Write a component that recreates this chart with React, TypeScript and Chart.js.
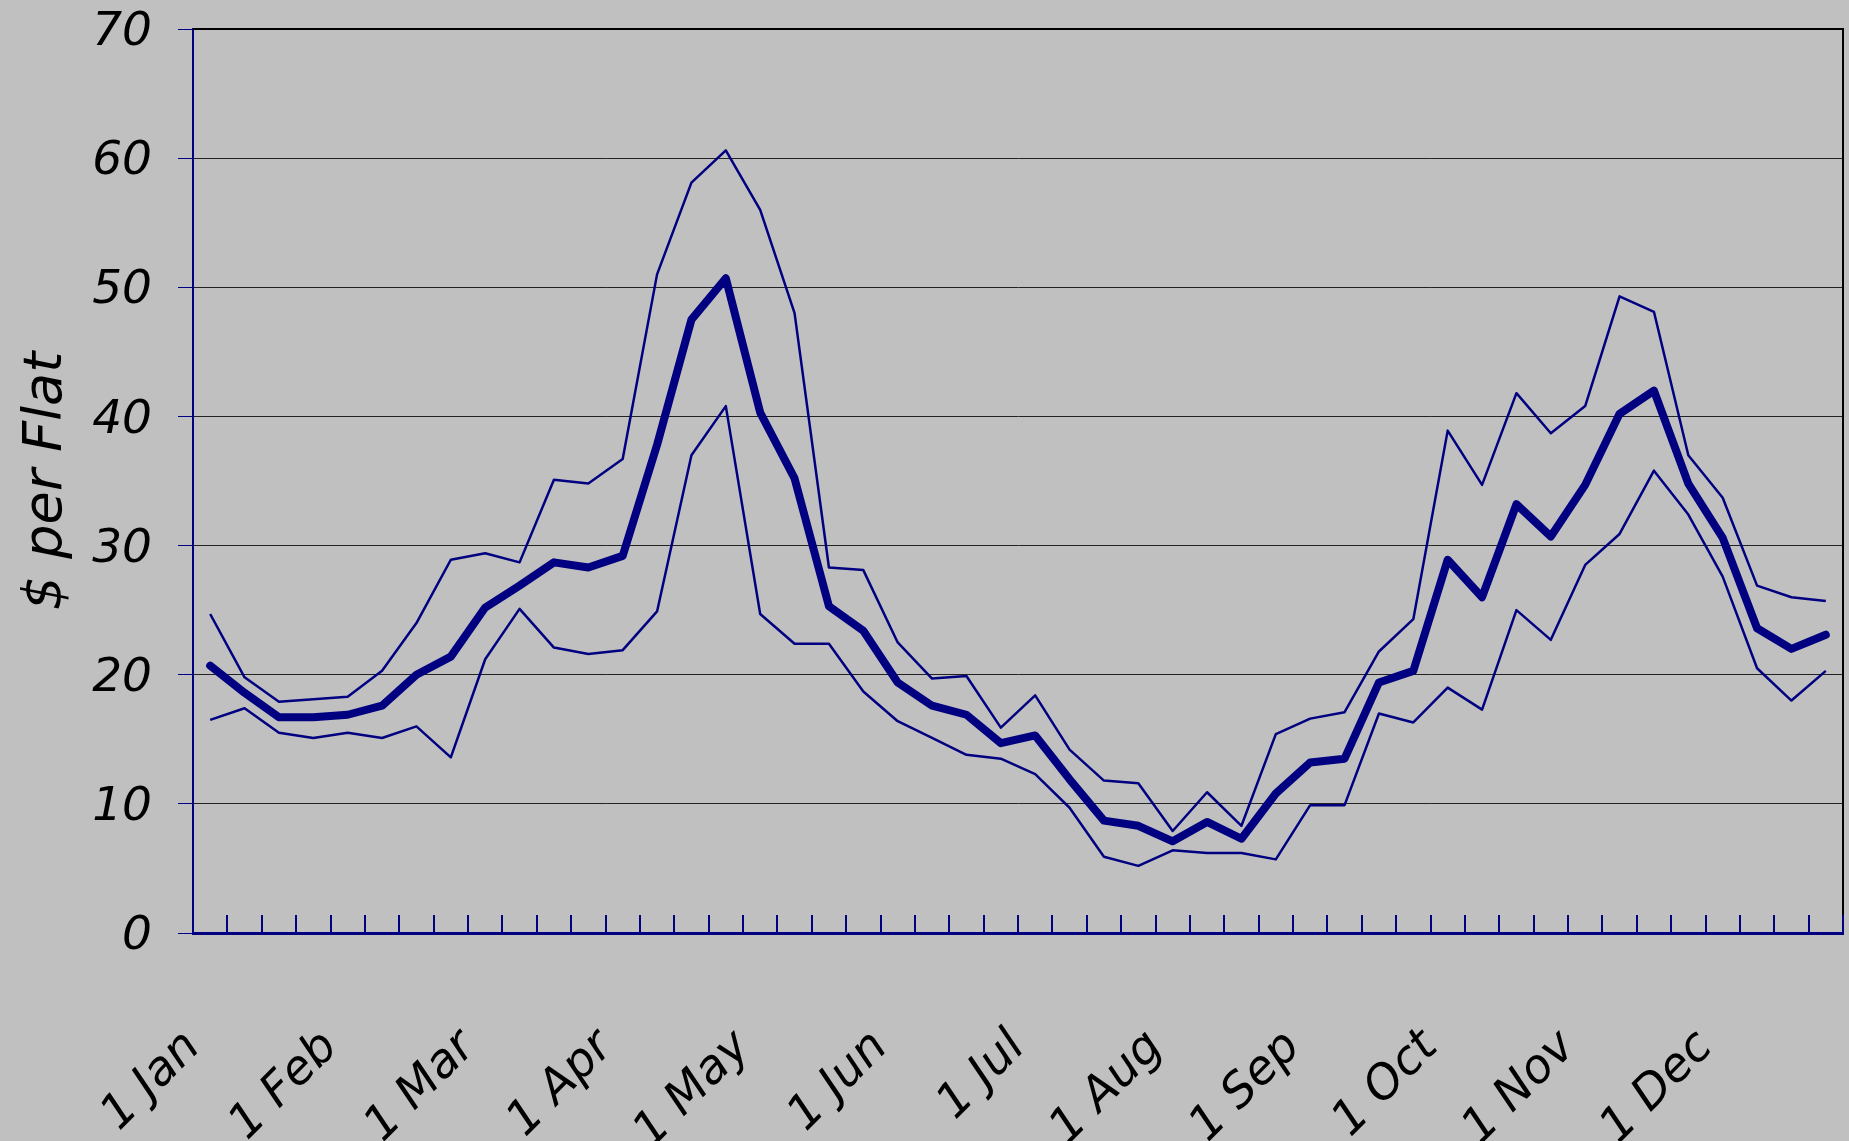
import React, { useEffect, useRef } from "react";
import { Chart, registerables } from "chart.js";

Chart.register(...registerables);

// ---- Data ----
const MONTHS = ["1 Jan", "1 Feb", "1 Mar", "1 Apr", "1 May", "1 Jun", "1 Jul", "1 Aug", "1 Sep", "1 Oct", "1 Nov", "1 Dec"];
// four weekly categories per month, the month label on the first one
const WEEK_LABELS = MONTHS.flatMap((m) => [m, "", "", ""]);

const MAX_PRICE = [
  24.7, 19.8, 17.9, 18.1, 18.3, 20.3, 24.0, 28.9, 29.4, 28.7, 35.1, 34.8,
  36.7, 51.0, 58.1, 60.6, 56.0, 48.0, 28.3, 28.1, 22.5, 19.7, 19.9, 15.9,
  18.4, 14.2, 11.8, 11.6, 7.9, 10.9, 8.3, 15.4, 16.6, 17.1, 21.8, 24.3,
  38.9, 34.7, 41.8, 38.7, 40.8, 49.3, 48.1, 37.0, 33.7, 26.9, 26.0, 25.7,
];
const AVG_PRICE = [
  20.7, 18.6, 16.7, 16.7, 16.9, 17.6, 20.0, 21.4, 25.2, 26.9, 28.7, 28.3,
  29.2, 37.8, 47.5, 50.7, 40.3, 35.2, 25.3, 23.4, 19.4, 17.6, 16.9, 14.7,
  15.3, 11.9, 8.7, 8.3, 7.1, 8.6, 7.3, 10.8, 13.2, 13.5, 19.4, 20.3,
  28.9, 26.0, 33.2, 30.7, 34.7, 40.2, 42.0, 34.8, 30.6, 23.6, 22.0, 23.1,
];
const MIN_PRICE = [
  16.5, 17.4, 15.5, 15.1, 15.5, 15.1, 16.0, 13.6, 21.2, 25.1, 22.1, 21.6,
  21.9, 24.9, 37.0, 40.8, 24.7, 22.4, 22.4, 18.7, 16.4, 15.1, 13.8, 13.5,
  12.3, 9.7, 5.9, 5.2, 6.4, 6.2, 6.2, 5.7, 9.9, 9.9, 17.0, 16.3,
  19.0, 17.3, 25.0, 22.7, 28.5, 30.9, 35.8, 32.4, 27.6, 20.5, 18.0, 20.3,
];

const Y_MIN = 0;
const Y_MAX = 70;
const Y_STEP = 10;
const Y_TITLE = "$ per Flat";

// ---- Styles ----
const W = 1849;
const H = 1141;
const NAVY = "#000080";
const BG = "#C0C0C0";
const FONT = "'DejaVu Sans', sans-serif";

const framePlugin = {
  id: "frame",
  beforeDraw(chart: any) {
    const { ctx } = chart;
    ctx.save();
    ctx.fillStyle = BG;
    ctx.fillRect(0, 0, chart.width, chart.height);
    ctx.restore();
  },
  afterDraw(chart: any) {
    const { ctx, chartArea } = chart;
    const x = chart.scales.x;
    const n = x.getLabels().length;
    const step = x.getPixelForValue(1) - x.getPixelForValue(0);
    ctx.save();
    // top and right frame
    ctx.strokeStyle = "#000000";
    ctx.lineWidth = 2;
    ctx.beginPath();
    ctx.moveTo(chartArea.left, chartArea.top);
    ctx.lineTo(chartArea.right, chartArea.top);
    ctx.lineTo(chartArea.right, chartArea.bottom);
    ctx.stroke();
    // inside tick marks at category boundaries
    ctx.strokeStyle = NAVY;
    ctx.lineWidth = 2;
    ctx.beginPath();
    for (let i = 0; i <= n; i++) {
      const px = Math.round(x.getPixelForValue(i) - step / 2);
      ctx.moveTo(px, chartArea.bottom);
      ctx.lineTo(px, chartArea.bottom - 18);
    }
    ctx.stroke();
    ctx.restore();
  },
};

export default function App() {
  const ref = useRef<HTMLCanvasElement | null>(null);

  useEffect(() => {
    document.body.style.margin = "0";
    document.body.style.background = BG;
    const canvas = ref.current;
    if (!canvas) return;
    const thin = { borderColor: NAVY, borderWidth: 2.5, pointRadius: 0, tension: 0, fill: false, borderJoinStyle: "round" as const };
    const chart = new Chart(canvas, {
      type: "line",
      data: {
        labels: WEEK_LABELS,
        datasets: [
          { label: "Max", data: MAX_PRICE, ...thin, order: 2 },
          { label: "Min", data: MIN_PRICE, ...thin, order: 3 },
          {
            label: "Average",
            data: AVG_PRICE,
            borderColor: NAVY,
            borderWidth: 8,
            pointRadius: 0,
            tension: 0,
            fill: false,
            borderJoinStyle: "round",
            borderCapStyle: "round",
            order: 1,
          },
        ],
      },
      options: {
        animation: false,
        responsive: false,
        devicePixelRatio: 1,
        layout: { padding: { top: 29, right: 6, left: 0, bottom: 0 } },
        plugins: {
          legend: { display: false },
          tooltip: { enabled: false },
        },
        scales: {
          x: {
            type: "category",
            offset: true,
            grid: { display: false },
            border: { display: true, color: NAVY, width: 3 },
            ticks: {
              autoSkip: false,
              maxRotation: 45,
              minRotation: 45,
              padding: 79,
              labelOffset: -17,
              color: "#000000",
              font: { family: FONT, size: 47, style: "italic" },
            },
            afterFit: (s: any) => {
              s.height = 208;
              s.paddingLeft = 0;
              s.paddingRight = 0;
            },
          },
          y: {
            min: Y_MIN,
            max: Y_MAX,
            ticks: {
              stepSize: Y_STEP,
              padding: 26,
              labelOffset: 4,
              color: "#000000",
              font: { family: FONT, size: 47, style: "italic" },
            },
            grid: {
              color: "#222222",
              lineWidth: 1,
              tickColor: NAVY,
              tickLength: 15,
              tickWidth: 1,
            },
            border: { display: true, color: NAVY, width: 2 },
            title: {
              display: true,
              text: Y_TITLE,
              color: "#000000",
              font: { family: FONT, size: 54, style: "italic" },
              padding: { top: 15, bottom: 0 },
            },
            afterFit: (s: any) => {
              s.width = 193;
              s.paddingTop = 0;
              s.paddingBottom = 0;
            },
          },
        },
      },
      plugins: [framePlugin],
    });
    return () => chart.destroy();
  }, []);

  return (
    <div style={{ width: W, height: H, background: BG }}>
      <canvas ref={ref} width={W} height={H} style={{ display: "block" }} />
    </div>
  );
}
